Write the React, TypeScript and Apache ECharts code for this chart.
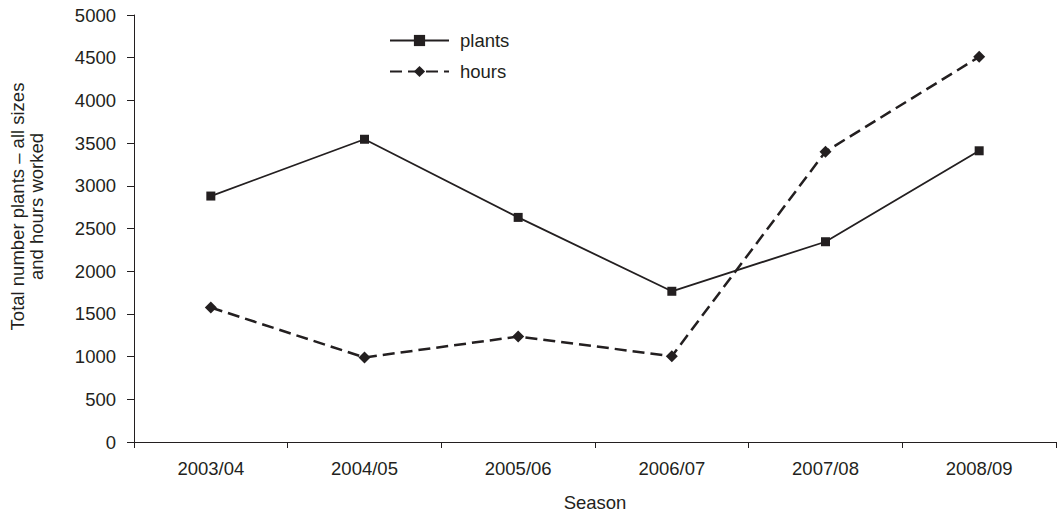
import React, { useEffect, useRef } from "react";
import * as echarts from "echarts";

const seasons = ["2003/04", "2004/05", "2005/06", "2006/07", "2007/08", "2008/09"];
const plants = [2880, 3545, 2630, 1765, 2345, 3410];
const hours = [1575, 990, 1235, 1005, 3400, 4510];

const INK = "#231f20";
const FONT = "'Liberation Sans', Arial, sans-serif";
const FS = 18.5;

export default function App() {
  const ref = useRef<HTMLDivElement>(null);
  useEffect(() => {
    if (!ref.current) return;
    const chart = echarts.init(ref.current, undefined, { renderer: "svg" });
    chart.setOption({
      animation: false,
      backgroundColor: "#ffffff",
      textStyle: { fontFamily: FONT, color: INK },
      grid: { left: 133, right: 5, top: 15, bottom: 71, containLabel: false },
      legend: {
        orient: "vertical",
        left: 389,
        top: 31,
        padding: 0,
        itemWidth: 59,
        itemHeight: 14,
        itemGap: 12,
        textStyle: { fontFamily: FONT, fontSize: FS, color: INK, padding: [0, 0, 0, 6] },
        data: ["plants", "hours"],
      },
      xAxis: {
        type: "category",
        data: seasons,
        boundaryGap: true,
        axisLine: { show: true, lineStyle: { color: INK, width: 1 } },
        axisTick: { show: true, inside: false, length: 6, interval: 0, lineStyle: { color: INK } },
        axisLabel: { fontFamily: FONT, fontSize: FS, color: INK, margin: 17, interval: 0 },
        splitLine: { show: false },
        name: "Season",
        nameLocation: "middle",
        nameGap: 51,
        nameTextStyle: { fontFamily: FONT, fontSize: FS, color: INK },
      },
      yAxis: {
        type: "value",
        min: 0,
        max: 5000,
        interval: 500,
        axisLine: { show: true, lineStyle: { color: INK, width: 1 } },
        axisTick: { show: true, inside: false, length: 7, lineStyle: { color: INK } },
        axisLabel: {
          fontFamily: FONT,
          fontSize: FS,
          color: INK,
          margin: 18,
          formatter: (v: number) => String(v),
        },
        splitLine: { show: false },
        name: "Total number plants \u2013 all sizes\nand hours worked",
        nameLocation: "middle",
        nameGap: 88,
        nameTextStyle: {
          fontFamily: FONT,
          fontSize: FS,
          color: INK,
          lineHeight: 19,
          align: "center",
          padding: [0, 0, 0, 44],
        },
      },
      series: [
        {
          name: "plants",
          type: "line",
          data: plants,
          symbol: "rect",
          symbolSize: 9,
          lineStyle: { color: INK, width: 1.8, type: "solid" },
          itemStyle: { color: INK },
        },
        {
          name: "hours",
          type: "line",
          data: hours,
          symbol: "diamond",
          symbolSize: [12, 12],
          lineStyle: { color: INK, width: 2.5, type: [12, 6] },
          itemStyle: { color: INK },
        },
      ],
    });
    return () => chart.dispose();
  }, []);
  return (
    <div
      ref={ref}
      style={{ position: "absolute", left: 0, top: 0, width: 1061, height: 517, background: "#fff" }}
    />
  );
}
